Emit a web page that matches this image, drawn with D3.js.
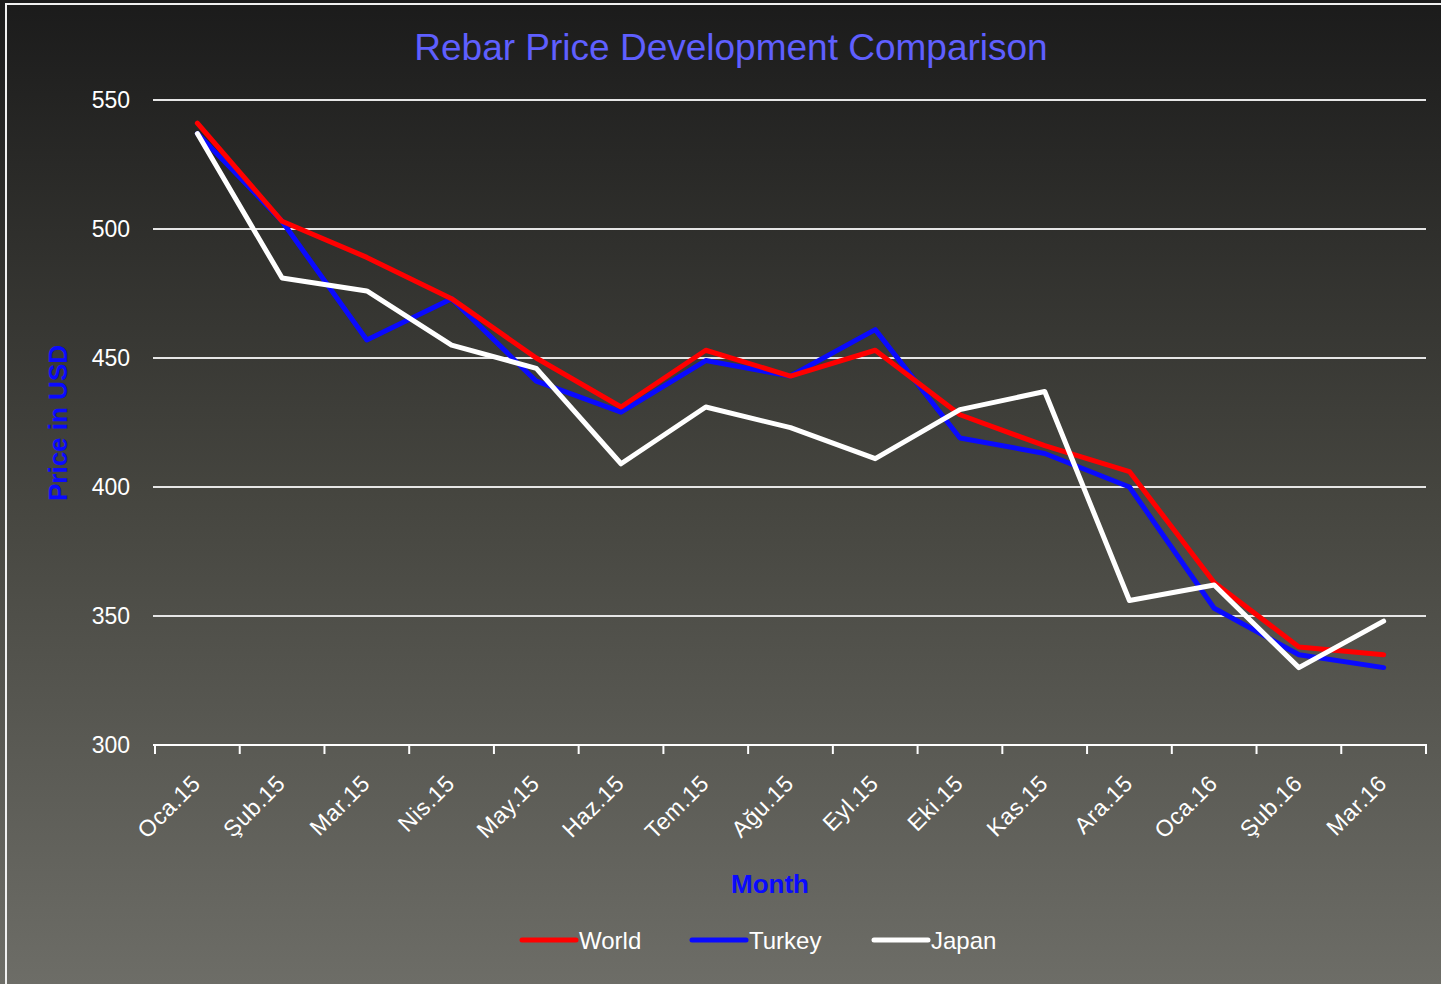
<!DOCTYPE html>
<html>
<head>
<meta charset="utf-8">
<script src="https://cdn.jsdelivr.net/npm/d3@7"></script>
<style>
  html, body { margin: 0; padding: 0; background: #1b1b1b; }
  svg { display: block; }
</style>
</head>
<body>
<div id="chart"></div>
<script>
// chart data
var months = ["Oca.15", "Şub.15", "Mar.15", "Nis.15", "May.15", "Haz.15", "Tem.15", "Ağu.15",
              "Eyl.15", "Eki.15", "Kas.15", "Ara.15", "Oca.16", "Şub.16", "Mar.16"];
var world  = [541, 503, 489, 473, 450, 431, 453, 443, 453, 428, 416, 406, 363, 338, 335];
var turkey = [537, 503, 457, 473, 441, 429, 449, 443, 461, 419, 413, 400, 353, 335, 330];
var japan  = [537, 481, 476, 455, 446, 409, 431, 423, 411, 430, 437, 356, 362, 330, 348];
var yTicks = [300, 350, 400, 450, 500, 550];
var seriesNames = ["World", "Turkey", "Japan"];
var seriesColors = ["#ff0000", "#0a0aff", "#ffffff"];

function init() {
    var w = 1441, h = 984;
    var margin = { left: 155, right: 15, top: 100, bottom: 239 };
    var font = "Liberation Sans, Arial, sans-serif";

    var svg = d3.select("#chart").append("svg")
        .attr("width", w)
        .attr("height", h);

    // background gradient
    var defs = svg.append("defs");
    var grad = defs.append("linearGradient")
        .attr("id", "bg")
        .attr("x1", 0).attr("y1", 0).attr("x2", 0).attr("y2", 1);
    grad.append("stop").attr("offset", "0%").attr("stop-color", "#1b1b1b");
    grad.append("stop").attr("offset", "50%").attr("stop-color", "#45453f");
    grad.append("stop").attr("offset", "100%").attr("stop-color", "#6d6d67");

    svg.append("rect")
        .attr("width", w).attr("height", h)
        .attr("fill", "url(#bg)");

    // white frame
    svg.append("rect")
        .attr("x", 6).attr("y", 4)
        .attr("width", w + 10).attr("height", h + 10)
        .attr("fill", "none")
        .attr("stroke", "#f0f0f0")
        .attr("stroke-width", 2);

    var x = d3.scaleBand()
        .domain(months)
        .range([margin.left, w - margin.right]);

    var y = d3.scaleLinear()
        .domain([300, 550])
        .range([h - margin.bottom, margin.top]);

    // title
    svg.append("text")
        .attr("x", 731).attr("y", 60)
        .attr("text-anchor", "middle")
        .attr("font-family", font)
        .attr("font-size", 37)
        .attr("fill", "#5f5fff")
        .text("Rebar Price Development Comparison");

    // grid lines
    svg.append("g")
        .selectAll("line")
        .data(yTicks.slice(1))
        .enter()
        .append("line")
        .attr("x1", margin.left - 2)
        .attr("x2", w - margin.right)
        .attr("y1", function (d) { return y(d); })
        .attr("y2", function (d) { return y(d); })
        .attr("stroke", "#e6e6e6")
        .attr("stroke-width", 2);

    // y axis
    var yAxis = svg.append("g")
        .attr("transform", "translate(" + margin.left + ",0)")
        .call(d3.axisLeft(y).tickValues(yTicks).tickSize(0).tickPadding(25));
    yAxis.select(".domain").remove();
    yAxis.selectAll("text")
        .attr("font-family", font)
        .attr("font-size", 23)
        .attr("fill", "#ffffff");

    // x axis with ticks on band boundaries
    var xAxisG = svg.append("g")
        .attr("transform", "translate(0," + y(300) + ")");
    xAxisG.append("line")
        .attr("x1", margin.left - 2).attr("x2", w - margin.right + 1)
        .attr("stroke", "#ffffff").attr("stroke-width", 2);
    var bounds = months.map(function (m) { return x(m); }).concat([w - margin.right]);
    xAxisG.selectAll(".tk")
        .data(bounds)
        .enter()
        .append("line")
        .attr("class", "tk")
        .attr("x1", function (d) { return d; })
        .attr("x2", function (d) { return d; })
        .attr("y1", 0).attr("y2", 9)
        .attr("stroke", "#ffffff").attr("stroke-width", 2);
    xAxisG.selectAll(".lbl")
        .data(months)
        .enter()
        .append("text")
        .attr("class", "lbl")
        .attr("transform", function (d) {
            return "translate(" + (x(d) + x.bandwidth() / 2 - 1) + ",34) rotate(-45)";
        })
        .attr("text-anchor", "end")
        .attr("dy", "0.35em")
        .attr("font-family", font)
        .attr("font-size", 23)
        .attr("letter-spacing", 0.6)
        .attr("fill", "#ffffff")
        .text(function (d) { return d; });

    // axis titles
    svg.append("text")
        .attr("transform", "translate(67,423) rotate(-90)")
        .attr("text-anchor", "middle")
        .attr("font-family", font)
        .attr("font-weight", "bold")
        .attr("font-size", 26)
        .attr("fill", "#0a0aff")
        .text("Price in USD");

    svg.append("text")
        .attr("x", 770).attr("y", 893)
        .attr("text-anchor", "middle")
        .attr("font-family", font)
        .attr("font-weight", "bold")
        .attr("font-size", 26)
        .attr("fill", "#0a0aff")
        .text("Month");

    // lines
    var line = d3.line()
        .x(function (d, i) { return x(months[i]) + x.bandwidth() / 2; })
        .y(function (d) { return y(d); });

    var allSeries = [world, turkey, japan];
    var drawOrder = [1, 0, 2];
    drawOrder.forEach(function (k) {
        svg.append("path")
            .datum(allSeries[k])
            .attr("d", line)
            .attr("fill", "none")
            .attr("stroke", seriesColors[k])
            .attr("stroke-width", 5)
            .attr("stroke-linejoin", "round")
            .attr("stroke-linecap", "round");
    });

    // legend
    var legendX = [522, 692, 874];
    var legend = svg.append("g");
    seriesNames.forEach(function (name, i) {
        legend.append("line")
            .attr("x1", legendX[i]).attr("x2", legendX[i] + 54)
            .attr("y1", 940).attr("y2", 940)
            .attr("stroke", seriesColors[i])
            .attr("stroke-width", 5)
            .attr("stroke-linecap", "round");
        legend.append("text")
            .attr("x", legendX[i] + 57).attr("y", 949)
            .attr("font-family", font)
            .attr("font-size", 24)
            .attr("fill", "#ffffff")
            .text(name);
    });
}
window.onload = init;
</script>
</body>
</html>
